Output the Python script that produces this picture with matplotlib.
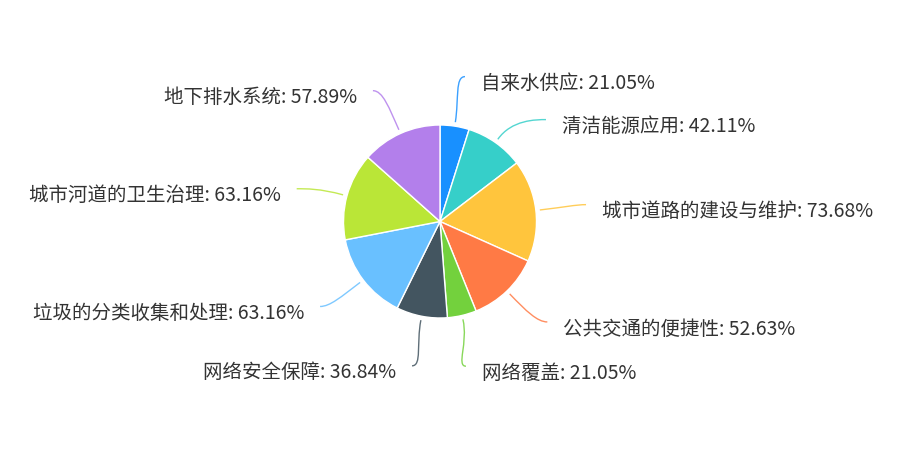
import numpy as np
import matplotlib
matplotlib.use("Agg")
import matplotlib.pyplot as plt
from matplotlib.path import Path
from matplotlib.patches import PathPatch

plt.rcParams['font.family'] = ['Noto Sans CJK SC', 'DejaVu Sans']

categories = ["自来水供应", "清洁能源应用", "城市道路的建设与维护", "公共交通的便捷性",
              "网络覆盖", "网络安全保障", "垃圾的分类收集和处理", "城市河道的卫生治理",
              "地下排水系统"]
values = [21.05, 42.11, 73.68, 52.63, 21.05, 36.84, 63.16, 63.16, 57.89]
colors = ["#1890ff", "#36cfc9", "#ffc53d", "#ff7a45", "#73d13d",
          "#435560", "#69c0ff", "#bae637", "#b37feb"]
# small angle shifts so labels don't collide (degrees)
label_nudge = [1, 11, 0, -3, 3, 0, 2, -2.5, -3]

W, H = 901, 450
cx, cy, r = 440, 228.5, 96.5

fig = plt.figure(figsize=(W / 100, H / 100), dpi=100)
ax = fig.add_axes([0, 0, 1, 1])

ax.pie(values, colors=colors, startangle=90, counterclock=False,
       center=(cx, cy), radius=r, frame=True,
       wedgeprops=dict(edgecolor="white", linewidth=1))

ax.set_xlim(0, W)
ax.set_ylim(0, H)
ax.set_aspect("auto")
ax.axis("off")

total = sum(values)
cum = np.cumsum([0] + values)
for i, (name, v, col) in enumerate(zip(categories, values, colors)):
    mid = (cum[i] + cum[i + 1]) / 2 / total * 360
    th = np.radians(mid)
    d = np.array([np.sin(th), np.cos(th)])
    the = np.radians(mid + label_nudge[i])
    end = np.array([cx, cy]) + 147 * np.array([np.sin(the), np.cos(the)])
    side = 1 if np.sin(the) > 0 else -1
    p0 = np.array([cx, cy]) + (r + 4) * d
    p1 = np.array([cx, cy]) + (r + 28) * d
    p2 = end - np.array([side * 10, 0])
    path = Path([p0, p1, p2, end], [Path.MOVETO, Path.CURVE4, Path.CURVE4, Path.CURVE4])
    ax.add_patch(PathPatch(path, facecolor="none", edgecolor=col, lw=1.0, alpha=0.85))
    ax.text(end[0] + side * 16, end[1] - 7, f"{name}: {v:.2f}%",
            ha="left" if side > 0 else "right", va="center",
            fontsize=14, color="#333333")

fig.savefig("out.png", dpi=100, facecolor="white")
